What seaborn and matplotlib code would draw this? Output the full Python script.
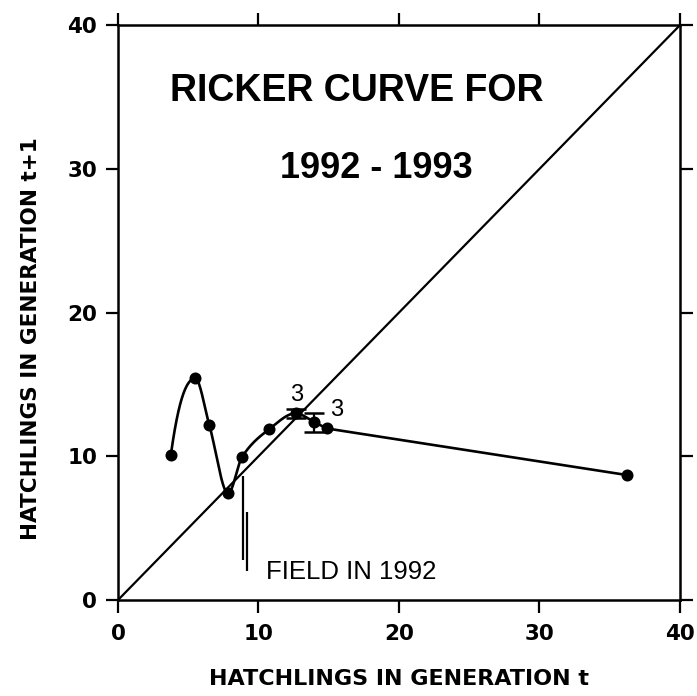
import numpy as np
import pandas as pd
import matplotlib
matplotlib.use("Agg")
import matplotlib.pyplot as plt
import seaborn as sns

# ---- data ----
gen_t = [3.76, 5.5, 6.5, 7.84, 8.84, 10.74, 12.64, 13.95, 14.84, 36.2]
gen_t1 = [10.09, 15.42, 12.17, 7.42, 9.97, 11.87, 12.99, 12.40, 11.94, 8.70]
err_x = [12.64, 13.95]
err_y = [12.99, 12.35]
err_size = [0.3, 0.65]
count_labels = ["3", "3"]
count_x = [12.7, 15.55]
count_y = [14.25, 13.25]
field_x = [8.9, 9.2]
field_ymin = [2.8, 2.0]
field_ymax = [8.6, 6.1]
ticks = [0, 10, 20, 30, 40]
title_lines = ["RICKER CURVE FOR", "1992 - 1993"]
xlabel = "HATCHLINGS IN GENERATION t"
ylabel = "HATCHLINGS IN GENERATION t+1"
field_label = "FIELD IN 1992"


def pchip(x, y, xs):
    x = np.asarray(x, float)
    y = np.asarray(y, float)
    h = np.diff(x)
    delta = np.diff(y) / h
    n = len(x)
    d = np.zeros(n)
    for k in range(1, n - 1):
        if delta[k - 1] * delta[k] <= 0:
            d[k] = 0.0
        else:
            w1 = 2 * h[k] + h[k - 1]
            w2 = h[k] + 2 * h[k - 1]
            d[k] = (w1 + w2) / (w1 / delta[k - 1] + w2 / delta[k])

    def end(h0, h1, d0, d1):
        v = ((2 * h0 + h1) * d0 - h0 * d1) / (h0 + h1)
        if np.sign(v) != np.sign(d0):
            v = 0.0
        elif np.sign(d0) != np.sign(d1) and abs(v) > abs(3 * d0):
            v = 3 * d0
        return v

    d[0] = end(h[0], h[1], delta[0], delta[1])
    d[-1] = end(h[-1], h[-2], delta[-1], delta[-2])
    out = np.empty_like(xs)
    for i, xv in enumerate(xs):
        k = min(np.searchsorted(x, xv, side="right") - 1, n - 2)
        k = max(k, 0)
        t = (xv - x[k]) / h[k]
        h00 = 2 * t**3 - 3 * t**2 + 1
        h10 = t**3 - 2 * t**2 + t
        h01 = -2 * t**3 + 3 * t**2
        h11 = t**3 - t**2
        out[i] = h00 * y[k] + h10 * h[k] * d[k] + h01 * y[k + 1] + h11 * h[k] * d[k + 1]
    return out


sns.set_style("ticks")
plt.rcParams["font.family"] = ["DejaVu Sans"]
plt.rcParams["text.color"] = "black"
plt.rcParams["axes.labelcolor"] = "black"

fig = plt.figure(figsize=(6.97, 6.96), dpi=100)
ax = fig.add_axes([0.1693, 0.1379, 0.8063, 0.826])

pts = pd.DataFrame({"t": gen_t, "t1": gen_t1})
# smooth part through all but the last point, then a straight segment to the last
xs = np.linspace(gen_t[0], gen_t[-2], 600)
smooth_y = pchip(gen_t[:-1], gen_t1[:-1], xs)
curve = pd.DataFrame({"t": np.append(xs, gen_t[-1]),
                      "t1": np.append(smooth_y, gen_t1[-1])})

ax.plot([ticks[0], ticks[-1]], [ticks[0], ticks[-1]], color="black", lw=1.6, zorder=2)

sns.lineplot(data=curve, x="t", y="t1", ax=ax, color="black", lw=1.9, sort=False,
             estimator=None, zorder=3)
sns.scatterplot(data=pts, x="t", y="t1", ax=ax, color="black", s=75,
                edgecolor="black", linewidth=0, zorder=4)
ax.errorbar(err_x, err_y, yerr=err_size, fmt="none", ecolor="black",
            elinewidth=1.6, capsize=7, capthick=1.8, zorder=4)

ax.vlines(field_x, field_ymin, field_ymax, color="black", lw=1.6, zorder=3)

for lab, cx, cy in zip(count_labels, count_x, count_y):
    ax.text(cx, cy, lab, ha="center", va="center", fontsize=17,
            family="Liberation Sans", color="black")

ax.text(10.55, 1.95, field_label, ha="left", va="center", fontsize=18.5,
        family="Liberation Sans", color="black")

ax.text(17.0, 35.4, title_lines[0], ha="center", va="center", fontsize=27,
        family="Liberation Sans", fontweight="bold", color="black")
ax.text(18.4, 30.05, title_lines[1], ha="center", va="center", fontsize=26,
        family="Liberation Sans", fontweight="bold", color="black")

ax.set_xlim(ticks[0], ticks[-1])
ax.set_ylim(ticks[0], ticks[-1])
ax.set_xticks(ticks)
ax.set_yticks(ticks)
ax.set_xticklabels([str(v) for v in ticks], fontsize=15.5, fontweight="bold")
ax.set_yticklabels([str(v) for v in ticks], fontsize=15.5, fontweight="bold")
ax.tick_params(axis="both", which="both", direction="out", length=9, width=1.6,
               top=True, right=True, colors="black", pad=6)
ax.tick_params(axis="x", pad=8)

for s in ax.spines.values():
    s.set_visible(True)
    s.set_linewidth(1.8)
    s.set_color("black")

ax.set_xlabel(xlabel, fontsize=16, fontweight="bold", color="black")
ax.set_ylabel(ylabel, fontsize=15.5, fontweight="bold", color="black")
ax.xaxis.set_label_coords(0.5, -0.12)
ax.yaxis.set_label_coords(-0.137, 0.455)

fig.savefig("out.png", dpi=100, facecolor="white")
